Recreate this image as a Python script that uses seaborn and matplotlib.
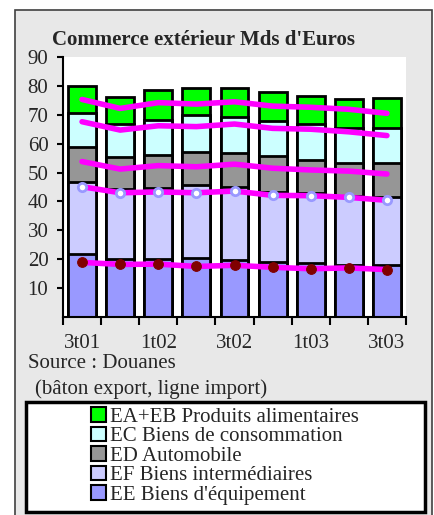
import numpy as np
import pandas as pd
import matplotlib
matplotlib.use("Agg")
import matplotlib.pyplot as plt
from matplotlib.patches import Rectangle, Patch
import seaborn as sns

# ---- data ----
quarters = ["3t01", "4t01", "1t02", "2t02", "3t02", "4t02", "1t03", "2t03", "3t03"]
tick_labels = ["3t01", "", "1t02", "", "3t02", "", "1t03", "", "3t03"]
series = ["EA+EB Produits alimentaires", "EC Biens de consommation", "ED Automobile",
          "EF Biens intermédiaires", "EE Biens d'équipement"]

# export (bars), cumulative tops
exp_EE = [21.8, 20.0, 20.0, 20.3, 19.7, 19.1, 18.6, 18.0, 17.9]
exp_EF = [46.6, 44.3, 44.5, 45.8, 44.9, 43.4, 42.8, 42.0, 41.6]
exp_ED = [58.9, 55.3, 56.1, 57.2, 56.9, 55.7, 54.3, 53.2, 53.4]
exp_EC = [70.5, 66.8, 68.2, 69.9, 69.3, 68.0, 66.8, 65.3, 65.5]
exp_tot = [80.0, 76.3, 78.6, 79.4, 79.1, 78.0, 76.6, 75.3, 75.7]

# import (lines), cumulative
imp_EE = [18.9, 18.2, 18.3, 17.5, 17.9, 17.2, 16.7, 17.0, 16.4]
imp_EF = [45.1, 43.0, 43.3, 43.0, 43.6, 42.1, 42.0, 41.4, 40.4]
imp_ED = [53.8, 51.2, 52.4, 52.0, 52.9, 51.5, 50.9, 50.5, 49.5]
imp_EC = [67.6, 64.7, 66.2, 65.9, 66.8, 65.3, 65.0, 64.1, 62.8]
imp_tot = [75.3, 72.2, 74.2, 73.7, 74.5, 73.0, 72.6, 71.9, 70.5]

colors = ["#00FF00", "#CCFFFF", "#969696", "#CCCCFF", "#9999FF"]

sns.set_style("white")
plt.rcParams["font.family"] = ["Liberation Serif", "DejaVu Serif"]

W, H = 434, 515
fig = plt.figure(figsize=(W / 100, H / 100), dpi=100)

# outer gray frame
fig.patches.append(Rectangle((15 / W, -0.05), (432 - 15) / W, 1 - 10 / H + 0.05,
                             transform=fig.transFigure, facecolor="#E8E8E8",
                             edgecolor="#404040", linewidth=1.2, zorder=-2))

ax = fig.add_axes([63 / W, (H - 317) / H, 343 / W, 260 / H])
ax.set_facecolor("white")
ax.set_zorder(1)

df = pd.DataFrame({"q": quarters, "tot": exp_tot, "EC": exp_EC, "ED": exp_ED,
                   "EF": exp_EF, "EE": exp_EE})
for col, c in zip(["tot", "EC", "ED", "EF", "EE"], colors):
    sns.barplot(data=df, x="q", y=col, color=c, saturation=1, width=0.73,
                edgecolor="black", linewidth=2, ax=ax, zorder=2)

xpos = np.arange(len(quarters))
for vals in [imp_tot, imp_EC, imp_ED]:
    sns.lineplot(x=xpos, y=vals, color="#FF00FF", linewidth=4, ax=ax, zorder=4)
sns.lineplot(x=xpos, y=imp_EF, color="#FF00FF", linewidth=4, ax=ax, zorder=4,
             marker="o", markersize=6, markerfacecolor="white",
             markeredgecolor="#9999FF", markeredgewidth=2)
sns.lineplot(x=xpos, y=imp_EE, color="#FF00FF", linewidth=4, ax=ax, zorder=4,
             marker="o", markersize=7, markerfacecolor="#800000",
             markeredgecolor="#800000")

ax.set_xlim(-0.5, 8.5)
ax.set_ylim(0, 90)
ax.set_yticks(range(10, 100, 10))
ax.set_xlabel("")
ax.set_ylabel("")
for s in ["top", "right"]:
    ax.spines[s].set_visible(False)
for s in ["left", "bottom"]:
    ax.spines[s].set_color("black")
    ax.spines[s].set_linewidth(1.5)

ax.set_xticks(np.arange(-0.5, 9, 1))
ax.set_xticklabels([])
ax.tick_params(axis="x", which="major", direction="out", length=6, width=1.5,
               color="black", bottom=True)
ax.set_xticks(xpos, minor=True)
ax.set_xticklabels(tick_labels, minor=True)
ax.tick_params(axis="x", which="minor", length=0, pad=12, labelsize=15)
ax.tick_params(axis="y", direction="out", length=4.5, width=1.5, color="black",
               left=True, pad=6, labelsize=15)

fig.text(52 / W, 1 - 40 / H, "Commerce extérieur Mds d'Euros", fontsize=15,
         fontweight="bold", ha="left", va="center")
fig.text(28 / W, 1 - 364 / H, "Source : Douanes", fontsize=15, ha="left", va="center")
fig.text(35 / W, 1 - 389 / H, "(bâton export, ligne import)", fontsize=15,
         ha="left", va="center")

# legend box
fig.patches.append(Rectangle((26 / W, 1 - 512 / H), (425 - 26) / W, (512 - 402) / H,
                             transform=fig.transFigure, facecolor="white",
                             edgecolor="black", linewidth=2.5, zorder=-1))
handles = [Patch(facecolor=c, edgecolor="black", linewidth=1.5) for c in colors]
leg = fig.legend(handles, series, loc="upper left",
                 bbox_to_anchor=(91 / W, 1 - 407 / H), frameon=False,
                 fontsize=15, handlelength=0.7, handleheight=0.7,
                 handletextpad=0.2, labelspacing=0.0, borderpad=0,
                 borderaxespad=0)

fig.savefig("out.png", dpi=100)
